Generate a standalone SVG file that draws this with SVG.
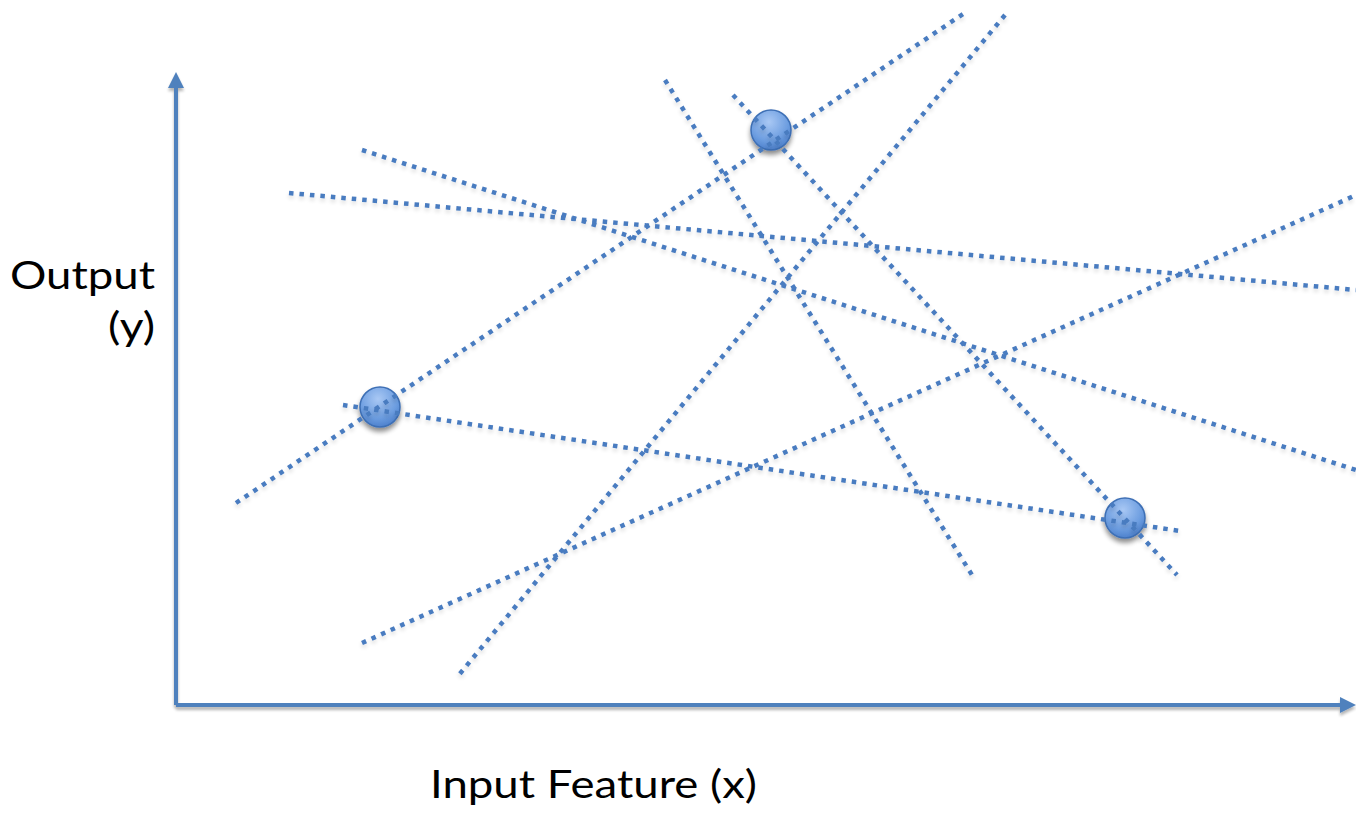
<svg xmlns="http://www.w3.org/2000/svg" width="1356" height="813" viewBox="0 0 1356 813">
  <style>
    .axis { stroke: #4f81bd; stroke-width: 4; fill: none; }
    .fit { stroke: #4a7cc0; stroke-width: 4.5; stroke-dasharray: 4.5 6; fill: none; }
    .label { font-family: Lato, "Open Sans", "Liberation Sans", sans-serif; font-size: 38px; fill: #000; }
    .pt { fill: url(#ptFill); stroke: #3e6fb5; stroke-width: 1.5; filter: url(#shadow); }
  </style>
  <defs>
    <marker id="arrow" viewBox="0 0 10 10" refX="5" refY="5" markerWidth="4" markerHeight="4" orient="auto-start-reverse" markerUnits="strokeWidth">
      <path d="M0,0 L10,5 L0,10 z" fill="#4f81bd"/>
    </marker>
    <radialGradient id="ptFill" cx="0.45" cy="0.3" r="0.8">
      <stop offset="0" stop-color="#a9c8f4"/>
      <stop offset="0.6" stop-color="#6c9de0"/>
      <stop offset="1" stop-color="#3f74c4"/>
    </radialGradient>
    <filter id="shadow" x="-50%" y="-50%" width="200%" height="200%">
      <feGaussianBlur in="SourceAlpha" stdDeviation="2.5"/>
      <feOffset dx="0" dy="4" result="b"/>
      <feComponentTransfer><feFuncA type="linear" slope="0.45"/></feComponentTransfer>
      <feMerge><feMergeNode/><feMergeNode in="SourceGraphic"/></feMerge>
    </filter>
    <filter id="axisShadow" x="-5%" y="-5%" width="110%" height="110%">
      <feGaussianBlur in="SourceAlpha" stdDeviation="1.5"/>
      <feOffset dx="0" dy="3"/>
      <feComponentTransfer><feFuncA type="linear" slope="0.3"/></feComponentTransfer>
      <feMerge><feMergeNode/><feMergeNode in="SourceGraphic"/></feMerge>
    </filter>
    <filter id="lineShadow" x="-5%" y="-5%" width="110%" height="110%">
      <feGaussianBlur in="SourceAlpha" stdDeviation="2"/>
      <feOffset dx="0" dy="3"/>
      <feComponentTransfer><feFuncA type="linear" slope="0.15"/></feComponentTransfer>
      <feMerge><feMergeNode/><feMergeNode in="SourceGraphic"/></feMerge>
    </filter>
  </defs>

  <!-- axes -->
  <g id="axes" filter="url(#axisShadow)">
    <line class="axis" x1="176" y1="705" x2="176" y2="80" marker-end="url(#arrow)"/>
    <line class="axis" x1="176" y1="705" x2="1348" y2="705" marker-end="url(#arrow)"/>
  </g>

  <!-- data points -->
  <g id="point-1"><circle class="pt" cx="771" cy="130" r="20"/></g>
  <g id="point-2"><circle class="pt" cx="380" cy="407" r="20"/></g>
  <g id="point-3"><circle class="pt" cx="1125" cy="518" r="20"/></g>

  <!-- candidate fit lines -->
  <g id="connectors" filter="url(#lineShadow)">
    <line class="fit" x1="236" y1="503" x2="966" y2="12"/>
    <line class="fit" x1="1005" y1="15" x2="458" y2="676"/>
    <line class="fit" x1="665" y1="80" x2="972" y2="575"/>
    <line class="fit" x1="733" y1="95" x2="1177" y2="575"/>
    <line class="fit" x1="362" y1="150" x2="1356" y2="470"/>
    <line class="fit" x1="289" y1="193" x2="1356" y2="290"/>
    <line class="fit" x1="362" y1="643" x2="1356" y2="195"/>
    <line class="fit" x1="343" y1="405" x2="1180" y2="531"/>
  </g>

  <!-- axis labels -->
  <g id="labels">
    <text class="label" x="10" y="289" textLength="145" lengthAdjust="spacingAndGlyphs">Output</text>
    <text class="label" x="108" y="340" textLength="47" lengthAdjust="spacingAndGlyphs">(y)</text>
    <text class="label" x="430" y="798" textLength="327" lengthAdjust="spacingAndGlyphs">Input Feature (x)</text>
  </g>
</svg>
